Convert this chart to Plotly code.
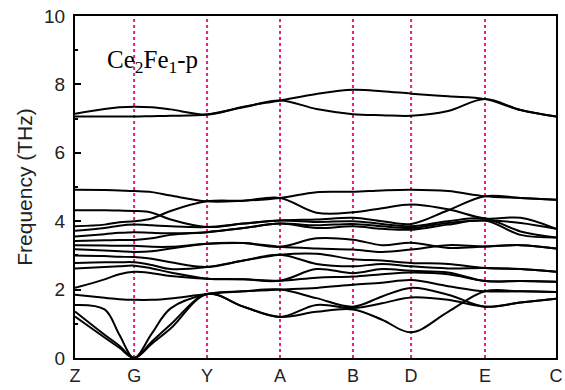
import plotly.graph_objects as go

# high-symmetry path
labels = ['Z', 'G', 'Y', 'A', 'B', 'D', 'E', 'C']
label_pos = [0, 0.60, 1.34, 2.08, 2.82, 3.41, 4.16, 4.88]

# sampling grid along the path (Z, ., ., G, ., ., Y, ., A, ., B, ., D, ., E, ., C)
kgrid = [0, 0.30, 0.45, 0.60, 0.78, 0.97, 1.34, 1.71, 2.08, 2.45, 2.82,
         3.115, 3.41, 3.785, 4.16, 4.52, 4.88]

# low-frequency branches (THz)
low_bands = [
    [1.21, 0.60, 0.30, 0, 0.42, 0.86, 1.87, 1.50, 1.20, 1.35, 1.42, 1.12, 0.75, 1.35, 1.95, 1.95, 1.93],
    [1.36, 0.68, 0.36, 0, 0.48, 0.98, 1.87, 1.50, 1.20, 1.55, 1.46, 1.60, 1.77, 1.70, 1.50, 1.62, 1.73],
    [1.55, 1.42, 0.68, 0, 0.72, 1.45, 1.87, 1.95, 2.00, 1.75, 1.50, 1.80, 2.05, 1.85, 1.50, 1.62, 1.73],
    [1.85, 1.76, 1.72, 1.70, 1.70, 1.74, 1.87, 1.95, 2.00, 2.05, 2.14, 2.20, 2.28, 2.10, 1.95, 1.95, 1.93],
    [2.05, 2.30, 2.45, 2.52, 2.48, 2.40, 2.32, 2.30, 2.26, 2.35, 2.38, 2.45, 2.50, 2.45, 2.25, 2.25, 2.23],
    [2.62, 2.66, 2.68, 2.70, 2.62, 2.50, 2.32, 2.30, 2.26, 2.60, 2.48, 2.60, 2.55, 2.50, 2.25, 2.25, 2.23],
    [2.78, 2.80, 2.80, 2.80, 2.72, 2.60, 2.66, 2.85, 3.02, 2.75, 2.68, 2.75, 2.68, 2.62, 2.63, 2.60, 2.52],
    [3.00, 2.98, 2.96, 2.95, 2.90, 2.80, 2.66, 2.85, 3.02, 3.05, 2.89, 2.85, 2.78, 2.75, 2.63, 2.60, 2.52],
    [3.18, 3.14, 3.12, 3.10, 3.12, 3.20, 3.34, 3.36, 3.25, 3.20, 3.17, 3.10, 3.17, 3.30, 3.26, 3.30, 3.20],
    [3.30, 3.29, 3.28, 3.28, 3.25, 3.25, 3.34, 3.36, 3.25, 3.50, 3.46, 3.30, 3.37, 3.22, 3.26, 3.30, 3.20],
    [3.42, 3.44, 3.45, 3.45, 3.50, 3.60, 3.68, 3.80, 3.93, 3.80, 3.85, 3.78, 3.75, 3.90, 4.02, 3.60, 3.52],
    [3.55, 3.62, 3.66, 3.68, 3.66, 3.65, 3.68, 3.80, 3.93, 3.88, 3.92, 3.85, 3.80, 3.95, 4.02, 3.95, 3.78],
    [3.72, 3.80, 3.87, 3.90, 3.88, 3.85, 3.83, 3.93, 4.02, 3.98, 4.00, 3.92, 3.85, 4.00, 4.08, 3.70, 3.52],
    [3.85, 3.90, 3.97, 4.00, 4.08, 4.30, 4.58, 4.60, 4.68, 4.25, 4.26, 4.38, 4.49, 4.35, 4.08, 4.10, 3.78],
    [4.32, 4.32, 4.31, 4.30, 4.25, 4.05, 3.83, 3.93, 4.02, 4.05, 4.10, 4.00, 3.92, 4.32, 4.73, 4.68, 4.63],
    [4.92, 4.91, 4.90, 4.88, 4.85, 4.75, 4.58, 4.60, 4.68, 4.85, 4.86, 4.90, 4.92, 4.88, 4.73, 4.68, 4.63],
]

# high-frequency branches (THz)
high_lower = [7.06, 7.06, 7.06, 7.06, 7.07, 7.08, 7.12, 7.33, 7.53, 7.28, 7.13, 7.10, 7.08, 7.22, 7.57, 7.25, 7.06]
high_upper = [7.14, 7.28, 7.33, 7.35, 7.33, 7.27, 7.12, 7.35, 7.53, 7.72, 7.84, 7.80, 7.73, 7.65, 7.57, 7.25, 7.06]

fig = go.Figure()

for band in low_bands + [high_lower, high_upper]:
    fig.add_trace(go.Scatter(x=kgrid, y=band, mode='lines',
                             line=dict(color='black', width=2,
                                       shape='spline', smoothing=1.0),
                             hoverinfo='skip', showlegend=False))

# dashed markers at the inner high-symmetry points
for xp in label_pos[1:-1]:
    fig.add_vline(x=xp, line=dict(color='#ec1a82', width=2, dash='3px,3px'),
                  layer='below')

fig.add_annotation(text='Ce<sub>2</sub>Fe<sub>1</sub>-p',
                   xref='paper', yref='paper', x=0.063, y=0.868,
                   xanchor='left', yanchor='middle', showarrow=False,
                   font=dict(family='Liberation Serif', size=25, color='black'))

fig.update_layout(
    width=565, height=390,
    margin=dict(l=75, r=2, t=16, b=32),
    plot_bgcolor='white', paper_bgcolor='white',
    font=dict(family='Liberation Sans', size=18, color='#222'),
    showlegend=False)

fig.update_xaxes(range=[0, 4.88], tickvals=label_pos, ticktext=labels,
                 showgrid=False, zeroline=False, showline=True, mirror=True,
                 linecolor='black', linewidth=2, ticks='',
                 tickfont=dict(size=18), ticklabeloverflow='allow')
fig.update_yaxes(range=[0, 10], dtick=2, showgrid=False, zeroline=False,
                 showline=True, mirror=True, linecolor='black', linewidth=2,
                 ticks='inside', ticklen=6, tickwidth=1.5, tickcolor='black',
                 minor=dict(ticks='inside', dtick=1, ticklen=3, tickwidth=1.5,
                            tickcolor='black'),
                 tickfont=dict(size=19), ticklabelstandoff=4,
                 ticklabeloverflow='allow',
                 title=dict(text='Frequency (THz)', font=dict(size=21),
                            standoff=6))

# drop the default page margin so the figure sits at the window origin
fig.write_html("out.html", config={'displayModeBar': False},
               post_script="document.body.style.margin='0';")
